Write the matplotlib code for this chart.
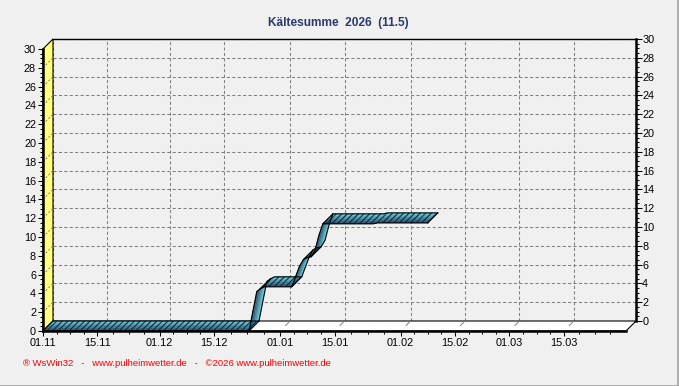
import datetime as dt
import numpy as np
import matplotlib
matplotlib.use("Agg")
import matplotlib.pyplot as plt
import matplotlib.dates as mdates
from matplotlib.collections import PolyCollection
from matplotlib.patches import Polygon
from matplotlib.lines import Line2D
from matplotlib.colors import to_rgb

plt.rcParams['font.family'] = ['Liberation Sans', 'DejaVu Sans']
plt.rcParams['font.size'] = 7.8
plt.rcParams['hatch.color'] = '#13263a'
plt.rcParams['hatch.linewidth'] = 0.8

# daily cumulative "Kaeltesumme" from 01.11.2025
start = dt.date(2025, 11, 1)
kaelte = ([0.0] * 54 + [2.1, 4.2, 4.5] + [4.7] * 8 +
          [5.8, 6.9, 7.6, 7.8, 7.9, 8.6, 10.2] + [11.4] * 14 + [11.5] * 14)
x_start = dt.date(2025, 11, 1)
x_end = dt.date(2026, 3, 31)
y_max = 30

days = mdates.date2num([start + dt.timedelta(days=i) for i in range(len(kaelte))])
vals = np.array(kaelte)

W, H = 679, 386
BG = '#f0f0f0'
fig = plt.figure(figsize=(W / 100, H / 100), dpi=100, facecolor=BG)


def rect(left, bottom, w, h):
    return [left / W, (H - bottom) / H, w / W, h / H]


ax_back = fig.add_axes(rect(53, 321, 583, 282))
ax = fig.add_axes(rect(43, 331, 583, 282))

xlim = (mdates.date2num(x_start), mdates.date2num(x_end))
for a in (ax_back, ax):
    a.set_xlim(xlim)
    a.set_ylim(0, y_max)

# depth offset of the back wall (10 px) in data units
dx = 10 / 583 * (xlim[1] - xlim[0])
dy = 10 / 282 * y_max

n_span = (x_end - x_start).days
major_pos = [mdates.date2num(x_start + dt.timedelta(days=i)) for i in range(n_span + 1)
             if (x_start + dt.timedelta(days=i)).day in (1, 15)]
minor_pos = []
edges = list(major_pos) + [xlim[1]]
for a_, b_ in zip(edges[:-1], edges[1:]):
    minor_pos += list(np.linspace(a_, b_, 5)[1:-1])

# ---- back plane: grid + right axis
ax_back.set_facecolor(BG)
ax_back.set_xticks(major_pos)
ax_back.set_yticks(np.arange(0, y_max + 1, 2))
ax_back.set_yticks(np.arange(0, y_max + 0.1, 0.5), minor=True)
ax_back.grid(True, color='#808080', lw=0.75, ls=(0, (3, 2.2)))
ax_back.tick_params(axis='x', length=0, labelbottom=False)
ax_back.tick_params(axis='y', which='both', left=False, labelleft=False,
                    right=True, labelright=True, direction='out', width=0.75,
                    pad=0.5)
ax_back.tick_params(axis='y', which='major', length=4)
ax_back.tick_params(axis='y', which='minor', length=2)
for s in ('left', 'bottom'):
    ax_back.spines[s].set_visible(False)
ax_back.spines['top'].set_linewidth(1.0)
ax_back.spines['right'].set_linewidth(1.8)

# ---- front plane
ax.set_facecolor('none')
ax.set_xticks(major_pos)
ax.set_xticks(minor_pos, minor=True)
ax.xaxis.set_major_formatter(mdates.DateFormatter('%d.%m'))
ax.set_yticks(np.arange(0, y_max + 1, 2))
ax.set_yticks(np.arange(0, y_max + 0.1, 0.5), minor=True)
ax.tick_params(which='both', direction='out', width=0.75, pad=1.5)
ax.tick_params(which='major', length=3.5)
ax.tick_params(which='minor', length=2)
for s in ('top', 'right'):
    ax.spines[s].set_visible(False)
for s in ('left', 'bottom'):
    ax.spines[s].set_linewidth(1.8)
    ax.spines[s].set_zorder(6)

x0 = xlim[0]
# yellow side wall
ax.add_patch(Polygon([(x0, 0), (x0, y_max), (x0 + dx, y_max + dy), (x0 + dx, dy)],
                     closed=True, fc='#ffff80', ec='black', lw=0.8,
                     clip_on=False, zorder=1))
for v in range(2, y_max, 2):
    ax.plot([x0, x0 + dx], [v, v + dy], color='#808080', lw=0.7,
            ls=(0, (2, 2)), clip_on=False, zorder=1.5)
# white floor
ax.add_patch(Polygon([(x0, 0), (xlim[1], 0), (xlim[1] + dx, dy), (x0 + dx, dy)],
                     closed=True, fc='white', ec='black', lw=0.8,
                     clip_on=False, zorder=1))
for p in major_pos[1:]:
    ax.plot([p + dx * 0.55, p + dx], [dy * 0.55, dy], color='#808080', lw=0.7,
            clip_on=False, zorder=1.5)

# ---- 3D ribbon
c_front = np.array(to_rgb('#22405f'))
c_back = np.array(to_rgb('#68d2de'))
n_strip = 6
quads, cols = [], []
for i in range(len(days) - 1):
    xa, xb, va, vb = days[i], days[i + 1], vals[i], vals[i + 1]
    for k in range(n_strip):
        f0, f1 = k / n_strip, (k + 1) / n_strip
        quads.append([(xa + f0 * dx, va + f0 * dy), (xb + f0 * dx, vb + f0 * dy),
                      (xb + f1 * dx, vb + f1 * dy), (xa + f1 * dx, va + f1 * dy)])
        fm = (f0 + f1) / 2
        cols.append(c_front * (1 - fm) + c_back * fm)
pc = PolyCollection(quads, facecolors=cols, edgecolors=cols, linewidths=0.3,
                    clip_on=False, zorder=3)
ax.add_collection(pc)

flat = np.abs(np.diff(vals)) < 0.25
for i in np.where(flat)[0]:
    xa, xb, va, vb = days[i], days[i + 1], vals[i], vals[i + 1]
    ax.add_patch(Polygon([(xa, va), (xb, vb), (xb + dx, vb + dy), (xa + dx, va + dy)],
                         closed=True, fill=False, hatch='//////', ec='#13263a',
                         lw=0, clip_on=False, zorder=4))

ax.plot(days, vals, color='black', lw=0.8, clip_on=False, zorder=5)
ax.plot(days + dx, vals + dy, color='black', lw=0.8, clip_on=False, zorder=5)
change = [0] + [i for i in range(1, len(flat)) if flat[i] != flat[i - 1]] + [len(vals) - 1]
for i in change:
    ax.plot([days[i], days[i] + dx], [vals[i], vals[i] + dy], color='black',
            lw=0.8, clip_on=False, zorder=5)

# ---- texts
fig.text(0.4985, 1 - 23 / H, f"Kältesumme  2026  ({kaelte[-1]:.1f})",
         ha='center', va='center', fontsize=8.6, fontweight='bold',
         color='#2b3a68')
fig.text(23 / W, 1 - 363 / H,
         "® WsWin32   -   www.pulheimwetter.de   -   ©2026 www.pulheimwetter.de",
         ha='left', va='center', fontsize=6.8, color='#ff0000')

# frame
fig.add_artist(Line2D([0, 1], [0.5 / H, 0.5 / H], color='#a0a0a0', lw=1.2))
fig.add_artist(Line2D([1 - 1.5 / W, 1 - 1.5 / W], [0, 1], color='#a0a0a0', lw=1.2))

fig.savefig('out.png', dpi=100, facecolor=BG)
